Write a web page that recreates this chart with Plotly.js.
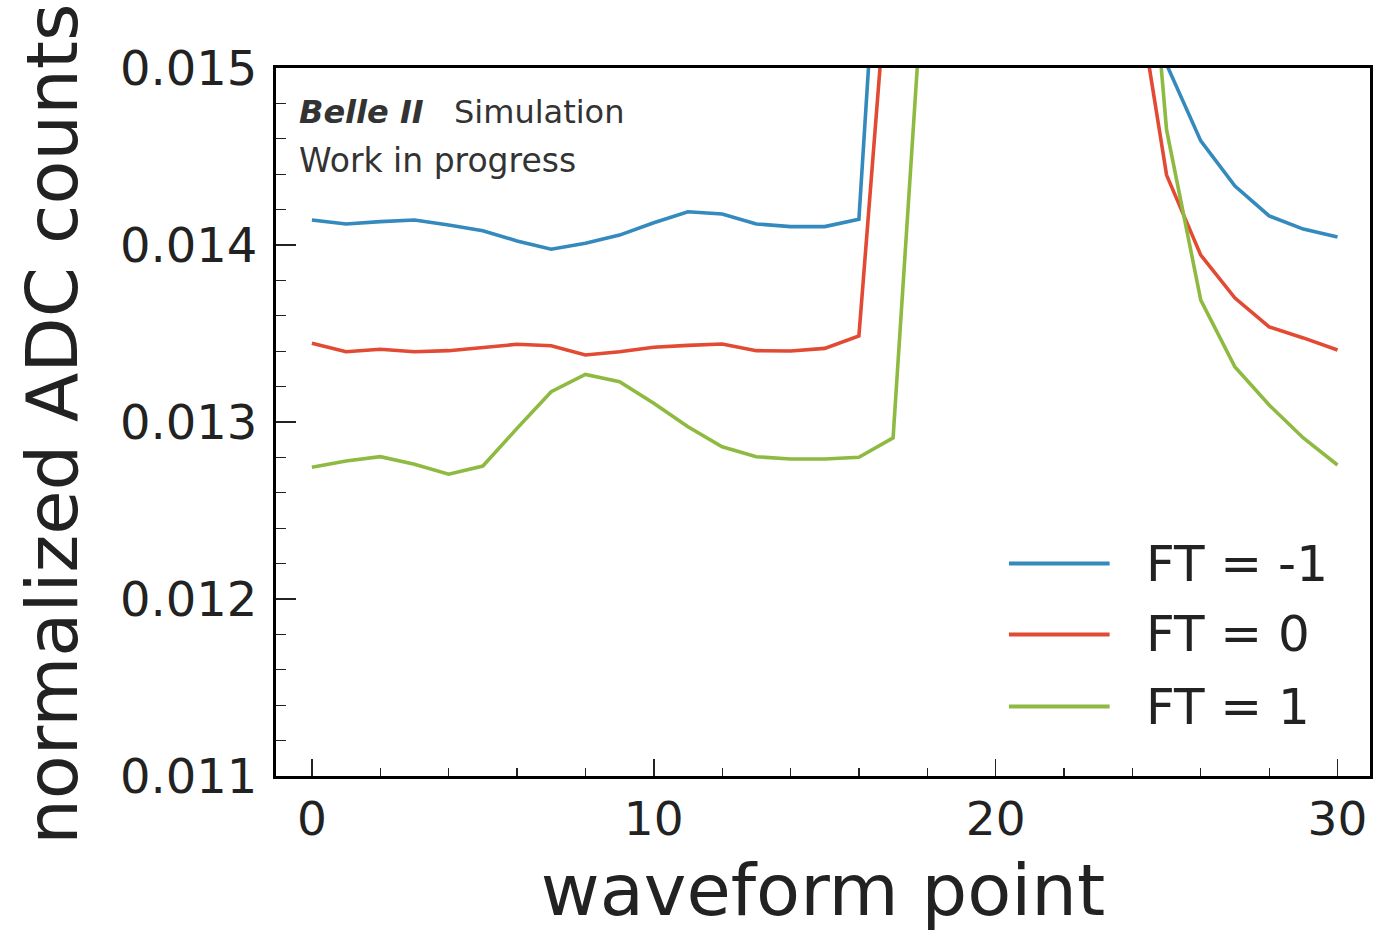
<!DOCTYPE html>
<html>
<head>
<meta charset="utf-8">
<script src="https://cdn.plot.ly/plotly-3.0.1.min.js"></script>
<style>html,body{margin:0;padding:0;background:#fff;}#chart{width:1373px;height:935px;}</style>
</head>
<body>
<div id="chart"></div>
<script>
// waveform point index
const points = [0,1,2,3,4,5,6,7,8,9,10,11,12,13,14,15,16,17,18,19,20,21,22,23,24,25,26,27,28,29,30];
const seriesNames = ["FT = -1", "FT = 0", "FT = 1"];
const colors = ["#348ABD", "#E24A33", "#8EBA42"];

// normalized ADC counts (off-scale peak region estimated)
const ftMinus1 = [0.014141,0.014119,0.014132,0.014141,0.014113,0.014081,0.014023,0.013976,0.014010,0.014056,
                  0.014126,0.014188,0.014175,0.014119,0.014104,0.014104,0.014145,0.01720,0.030,0.060,
                  0.080,0.075,0.055,0.035,0.022,0.01502,0.014588,0.014333,0.014164,0.014090,0.014045];
const ft0 = [0.013445,0.013397,0.013411,0.013397,0.013403,0.013420,0.013439,0.013431,0.013379,0.013397,
             0.013422,0.013433,0.013441,0.013403,0.013401,0.013416,0.013486,0.01594,0.026,0.055,
             0.078,0.076,0.058,0.036,0.0156,0.014395,0.013943,0.013700,0.013537,0.013475,0.013407];
const ft1 = [0.012744,0.012780,0.012804,0.012761,0.012705,0.012751,0.012964,0.013171,0.013269,0.013228,
             0.013106,0.012973,0.012860,0.012804,0.012791,0.012791,0.012801,0.012910,0.01587,0.040,
             0.070,0.078,0.066,0.045,0.0169,0.01465,0.013689,0.013311,0.013096,0.012910,0.012757];
const allSeries = [ftMinus1, ft0, ft1];

const xTicks = [0,10,20,30];
const yTicks = [0.011,0.012,0.013,0.014,0.015];
const yTickText = ["0.011","0.012","0.013","0.014","0.015"];

const FONT = "DejaVu Sans, Liberation Sans, sans-serif";

const traces = allSeries.map((s, i) => ({
  x: points, y: s, type: "scatter", mode: "lines", name: seriesNames[i],
  line: {color: colors[i], width: 3.6}, showlegend: false, hoverinfo: "skip"
}));

// custom legend (bottom right, inside plot)
const legendY = [0.300, 0.200, 0.098];
const shapes = [];
const annotations = [];
seriesNames.forEach((n, i) => {
  shapes.push({type: "line", xref: "paper", yref: "paper",
    x0: 0.670, x1: 0.762, y0: legendY[i], y1: legendY[i],
    line: {color: colors[i], width: 4}});
  annotations.push({xref: "paper", yref: "paper", x: 0.793, y: legendY[i],
    xanchor: "left", yanchor: "middle", text: n, showarrow: false,
    font: {family: FONT, size: 50, color: "#222"}});
});
annotations.push({xref: "paper", yref: "paper", x: 0.019, y: 0.938, xanchor: "left", yanchor: "middle",
  text: "<b><i>Belle II</i></b>", showarrow: false, font: {family: FONT, size: 32, color: "#333"}});
annotations.push({xref: "paper", yref: "paper", x: 0.161, y: 0.938, xanchor: "left", yanchor: "middle",
  text: "Simulation", showarrow: false, font: {family: FONT, size: 32, color: "#333"}});
annotations.push({xref: "paper", yref: "paper", x: 0.019, y: 0.869, xanchor: "left", yanchor: "middle",
  text: "Work in progress", showarrow: false, font: {family: FONT, size: 33, color: "#333"}});
// y axis title
annotations.push({xref: "paper", yref: "paper", x: -0.205, y: 0.497, xanchor: "center", yanchor: "middle",
  text: "normalized ADC counts", textangle: -90, showarrow: false,
  font: {family: FONT, size: 72, color: "#222"}});

const layout = {
  width: 1373, height: 935,
  margin: {l: 276, r: 3, t: 68, b: 159, pad: 0},
  paper_bgcolor: "#fff", plot_bgcolor: "#fff",
  showlegend: false,
  font: {family: FONT, color: "#222"},
  xaxis: {
    range: [-1.05, 30.95], tickvals: xTicks, ticktext: xTicks.map(String),
    ticks: "inside", ticklen: 17, tickwidth: 1.5, tickcolor: "#222",
    minor: {dtick: 2, tick0: 0, ticks: "inside", ticklen: 8, tickwidth: 1.2, tickcolor: "#222", showgrid: false},
    showline: true, linecolor: "#000", linewidth: 3, mirror: true,
    showgrid: false, zeroline: false,
    tickfont: {family: FONT, size: 47, color: "#222"},
    ticklabelstandoff: 0,
    title: {text: "waveform point", font: {family: FONT, size: 72, color: "#222"}, standoff: 20}
  },
  yaxis: {
    range: [0.011, 0.015], tickvals: yTicks, ticktext: yTickText,
    ticks: "inside", ticklen: 20, tickwidth: 1.5, tickcolor: "#222",
    minor: {dtick: 0.0002, tick0: 0.011, ticks: "inside", ticklen: 10, tickwidth: 1.2, tickcolor: "#222", showgrid: false},
    showline: true, linecolor: "#000", linewidth: 3, mirror: true,
    showgrid: false, zeroline: false,
    tickfont: {family: FONT, size: 48, color: "#222"},
    ticklabelstandoff: 6
  },
  shapes: shapes,
  annotations: annotations
};

Plotly.newPlot("chart", traces, layout, {staticPlot: true, displayModeBar: false});
</script>
</body>
</html>
